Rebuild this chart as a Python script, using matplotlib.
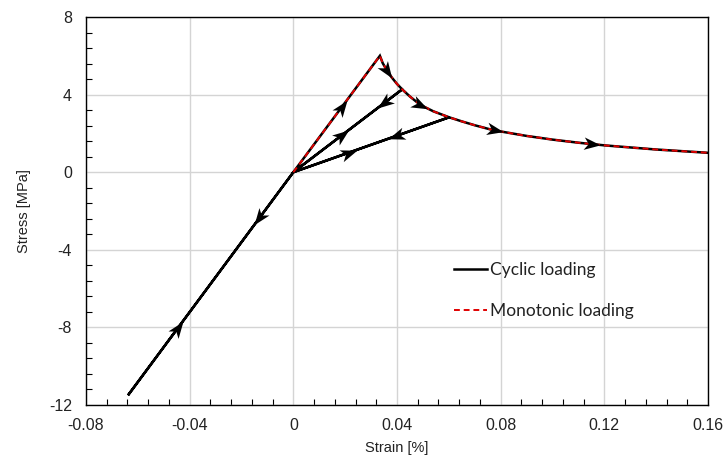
import numpy as np
import matplotlib
matplotlib.use("Agg")
import matplotlib.pyplot as plt
from matplotlib.path import Path
from matplotlib.markers import MarkerStyle
from matplotlib.transforms import Affine2D
from matplotlib.ticker import MultipleLocator

# ---- data ---------------------------------------------------------------
# post-peak softening branch (strain %, stress MPa)
soft_strain = [0.0334, 0.0345, 0.0360, 0.0380, 0.0400, 0.0420, 0.0450,
               0.0489, 0.0540, 0.0601, 0.0650, 0.0700, 0.0759, 0.0800,
               0.0900, 0.1000, 0.1100, 0.1203, 0.1400, 0.1600]
soft_stress = [6.00, 5.62, 5.27, 4.88, 4.55, 4.27, 3.90,
               3.48, 3.14, 2.83, 2.62, 2.42, 2.21, 2.10,
               1.87, 1.68, 1.52, 1.38, 1.17, 1.00]

# compression reversal point
comp_point = (-0.0638, -11.5)

# unloading points on the softening branch (indices into soft_*)
unload_idx = [5, 9]

# monotonic curve: origin -> peak -> softening
mono_strain = [0.0] + soft_strain
mono_stress = [0.0] + soft_stress

# cyclic path
i1, i2 = unload_idx
cyc_strain = ([0.0] + soft_strain[:i1 + 1] + [0.0, comp_point[0], 0.0]
              + soft_strain[i1:i2 + 1] + [0.0] + soft_strain[i2:])
cyc_stress = ([0.0] + soft_stress[:i1 + 1] + [0.0, comp_point[1], 0.0]
              + soft_stress[i1:i2 + 1] + [0.0] + soft_stress[i2:])


def pt(i):
    return (soft_strain[i], soft_stress[i])


# direction arrows: (segment start, segment end, strain position)
origin = (0.0, 0.0)
arrow_defs = [
    (origin, comp_point, -0.0132),
    (comp_point, origin, -0.0445),
    (origin, pt(0), 0.0188),
    (origin, pt(i1), 0.0188),
    (pt(i1), origin, 0.0350),
    (origin, pt(i2), 0.0215),
    (pt(i2), origin, 0.0396),
]
soft_arrow_x = [0.0362, 0.0490, 0.0778, 0.1151]

# ---- figure -------------------------------------------------------------
W, H = 727, 466
fig = plt.figure(figsize=(W / 100, H / 100), dpi=100)
ax = fig.add_axes([86 / W, 1 - 405 / H, (708 - 86) / W, (405 - 17) / H])

ax.set_xlim(-0.08, 0.16)
ax.set_ylim(-12, 8)
ax.xaxis.set_minor_locator(MultipleLocator(0.008))
ax.yaxis.set_minor_locator(MultipleLocator(0.8))
ax.set_xticks(np.arange(-0.08, 0.161, 0.04))
ax.set_xticklabels(["-0.08", "-0.04", "0", "0.04", "0.08", "0.12", "0.16"])
ax.set_yticks([-12, -8, -4, 0, 4, 8])
ax.set_yticklabels(["-12", "-8", "-4", "0", "4", "8"])

ax.grid(True, which="major", color="#d4d4d4", linewidth=1.0)
ax.set_axisbelow(True)
ax.tick_params(which="both", direction="in", colors="black", labelsize=11.5)
ax.tick_params(axis="y", which="major", length=0, pad=10)
ax.tick_params(axis="x", which="major", length=0, pad=9)
ax.tick_params(which="minor", length=4, width=0.8)
for lab in ax.get_xticklabels() + ax.get_yticklabels():
    lab.set_fontfamily("Liberation Sans")
    lab.set_color("#222222")
for s in ax.spines.values():
    s.set_linewidth(1.0)
    s.set_color("black")

ax.set_xlabel("Strain [%]", fontsize=10.5, family="Liberation Sans",
              color="#222222", labelpad=6)
ax.set_ylabel("Stress [MPa]", fontsize=10.5, family="Liberation Sans",
              color="#222222", labelpad=13)

cyc_line, = ax.plot(cyc_strain, cyc_stress, color="black", linewidth=1.8,
                    solid_joinstyle="miter", label="Cyclic loading", zorder=3)
mono_line, = ax.plot(mono_strain, mono_stress, color="#e00000",
                     linewidth=1.4, dashes=(3, 2), label="Monotonic loading",
                     zorder=4)

# arrowhead marker
head = Path([(1.0, 0.0), (-1.0, 0.75), (-0.45, 0.0), (-1.0, -0.75), (1.0, 0.0)],
            [Path.MOVETO, Path.LINETO, Path.LINETO, Path.LINETO, Path.CLOSEPOLY])


def draw_head(x, y, dx, dy):
    p0 = ax.transData.transform((x, y))
    p1 = ax.transData.transform((x + dx, y + dy))
    ang = np.degrees(np.arctan2(p1[1] - p0[1], p1[0] - p0[0]))
    m = MarkerStyle(head, transform=Affine2D().rotate_deg(ang))
    ax.plot([x], [y], marker=m, markersize=12, color="black",
            markeredgewidth=0, linestyle="none", zorder=5)


for a, b, xa in arrow_defs:
    t = (xa - a[0]) / (b[0] - a[0])
    ya = a[1] + t * (b[1] - a[1])
    draw_head(xa, ya, b[0] - a[0], b[1] - a[1])

for xa in soft_arrow_x:
    ya = np.interp(xa, soft_strain, soft_stress)
    k = np.searchsorted(soft_strain, xa)
    draw_head(xa, ya, soft_strain[k] - soft_strain[k - 1],
              soft_stress[k] - soft_stress[k - 1])

leg = ax.legend(handles=[cyc_line, mono_line], loc="upper left",
                bbox_to_anchor=(454 / W, 1 - 262 / H),
                bbox_transform=fig.transFigure, frameon=False,
                prop={"family": "Lato", "size": 12.5}, handlelength=1.9,
                handletextpad=0.15, labelspacing=1.45, borderpad=0,
                borderaxespad=0)
for t in leg.get_texts():
    t.set_color("#222222")

fig.savefig("out.png", dpi=100)
